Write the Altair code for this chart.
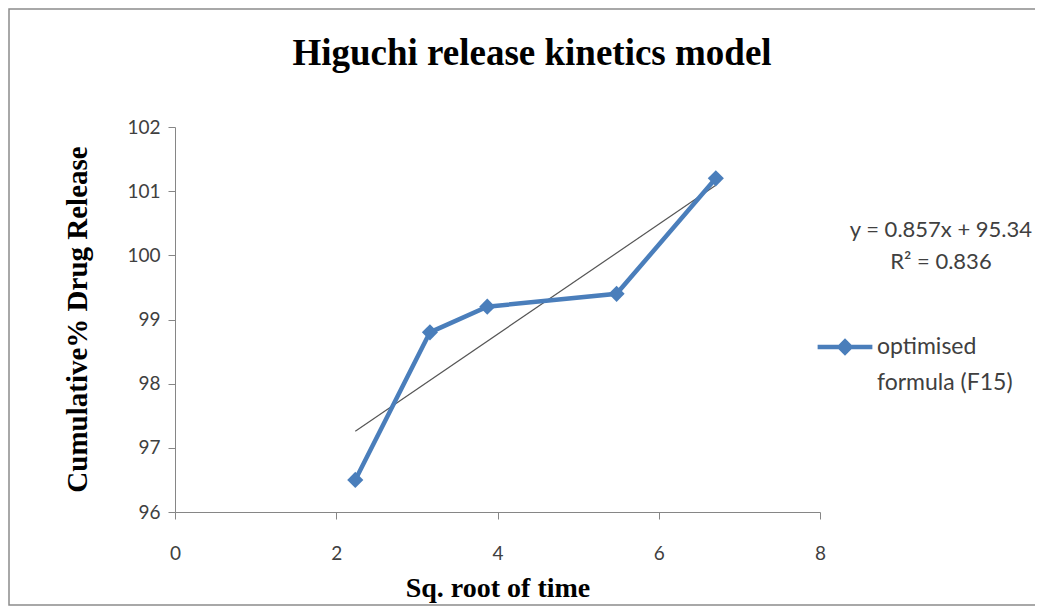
import altair as alt
import pandas as pd

# data
sqrt_time = [2.236, 3.162, 3.873, 5.477, 6.708]
release = [96.5, 98.8, 99.2, 99.4, 101.2]
series_name = "optimised formula (F15)"
eq_lines = ["y = 0.857x + 95.34", "R\u00b2 = 0.836"]
eq_x = [9.5, 9.5]
eq_y = [100.4, 99.9]
chart_title = ["Higuchi release kinetics model"]

x_ticks = [0, 2, 4, 6, 8]
y_ticks = [96, 97, 98, 99, 100, 101, 102]

df = pd.DataFrame({"x": sqrt_time, "y": release, "series": [series_name] * len(sqrt_time)})
eq_df = pd.DataFrame({"x": eq_x, "y": eq_y, "t": eq_lines})
title_df = pd.DataFrame({"t": chart_title})

BLUE = "#4A7EBB"
LABEL_FONT = "Lato"
SERIF = "Liberation Serif"

xs = alt.Scale(domain=[0, 8], nice=False, zero=False)
ys = alt.Scale(domain=[96, 102], nice=False, zero=False)

x_axis = alt.Axis(values=x_ticks, title="Sq. root of time", grid=False, format="d", labelFlush=False,
                  labelFont=LABEL_FONT, labelFontSize=19, labelColor="#404040",
                  labelPadding=25, tickSize=7, tickColor="#868686", domainColor="#868686",
                  titleFont=SERIF, titleFontSize=28, titleFontWeight="bold", titleColor="#000000",
                  titleY=76, titleBaseline="middle")
y_axis = alt.Axis(values=y_ticks, title="Cumulative% Drug Release", grid=False, format="d",
                  labelFont=LABEL_FONT, labelFontSize=19, labelColor="#404040",
                  labelPadding=8, tickSize=7, tickColor="#868686", domainColor="#868686",
                  titleFont=SERIF, titleFontSize=29, titleFontWeight="bold", titleColor="#000000",
                  titleX=-98, titleY=192, titleAngle=-90, titleBaseline="middle", titleAlign="center")

border = alt.Chart(pd.DataFrame({"a": [0]})).mark_rect(
    fill=None, stroke="#8c8c8c", strokeWidth=1.5
).encode(x=alt.value(-166), x2=alt.value(900), y=alt.value(-118), y2=alt.value(478))

title = alt.Chart(title_df).mark_text(font=SERIF, fontSize=37, fontWeight="bold", color="#000000",
                                      align="center", baseline="alphabetic").encode(
    x=alt.value(357), y=alt.value(-62), text="t:N")

line = alt.Chart(df).mark_line(strokeWidth=4.5).encode(
    x=alt.X("x:Q", scale=xs, axis=x_axis),
    y=alt.Y("y:Q", scale=ys, axis=y_axis),
    color=alt.Color("series:N", scale=alt.Scale(range=[BLUE]),
                    legend=alt.Legend(title=None, orient="none", legendX=640, legendY=190,
                                      symbolType="M-1,0H1M-0.2,0L0,-0.2L0.2,0L0,0.2Z",
                                      symbolSize=3000, symbolStrokeWidth=4.5,
                                      symbolFillColor=BLUE, symbolStrokeColor=BLUE,
                                      labelFont=LABEL_FONT, labelFontSize=23, labelColor="#404040",
                                      labelExpr="split(datum.label, ' (')[0] == 'optimised formula' ? ['optimised', 'formula (F15)'] : datum.label",
                                      labelLimit=300, labelOffset=2)),
)
pts = alt.Chart(df).mark_point(shape="diamond", filled=True, size=260, opacity=1, color=BLUE).encode(
    x=alt.X("x:Q", scale=xs), y=alt.Y("y:Q", scale=ys)
)
trend = alt.Chart(df).transform_regression("x", "y").mark_line(
    color="#555555", strokeWidth=1.2
).encode(x=alt.X("x:Q", scale=xs), y=alt.Y("y:Q", scale=ys))

eq = alt.Chart(eq_df).mark_text(font=LABEL_FONT, fontSize=22, color="#404040", align="center").encode(
    x=alt.X("x:Q", scale=xs), y=alt.Y("y:Q", scale=ys), text="t:N"
)

chart = alt.layer(border, title, trend, line, pts, eq).properties(
    width=645, height=385,
    autosize=alt.AutoSizeParams(type="none"),
    padding={"left": 167, "top": 119, "right": 215, "bottom": 95},
).configure(background="white", style={"guide-label": {"lineHeight": 36}}).configure_view(stroke=None)

chart.save("out.html", embed_options={"renderer": "svg", "actions": False})
